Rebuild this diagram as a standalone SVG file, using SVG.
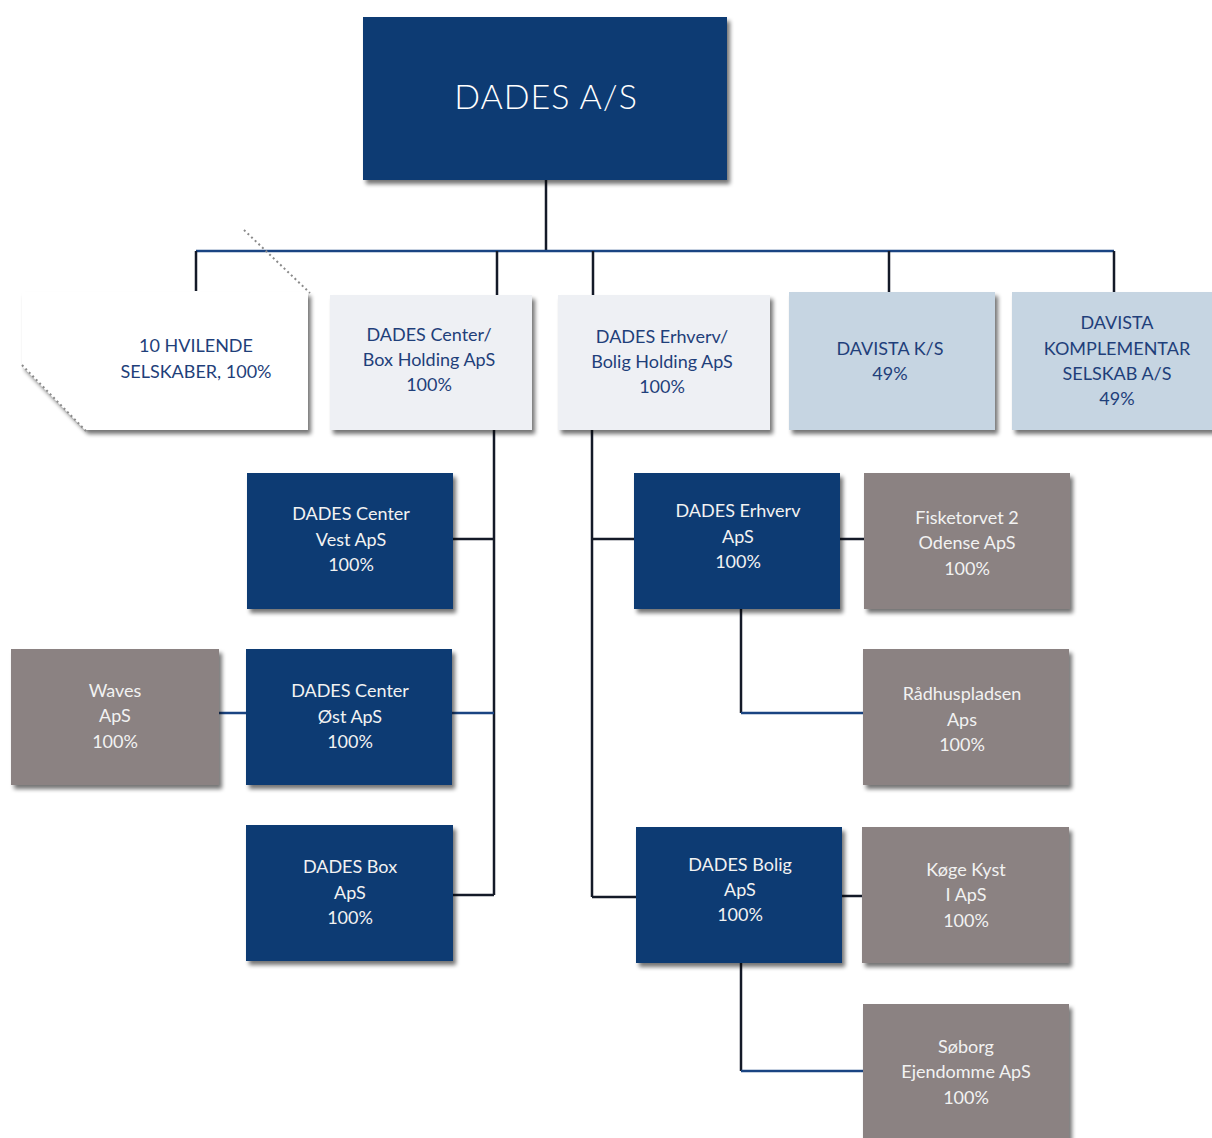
<svg xmlns="http://www.w3.org/2000/svg" width="1212" height="1138" viewBox="0 0 1212 1138">
<defs>
<filter id="sh" x="-10%" y="-10%" width="125%" height="125%">
<feGaussianBlur in="SourceAlpha" stdDeviation="2"/>
<feOffset dx="3" dy="4" result="o"/>
<feComponentTransfer><feFuncA type="linear" slope="0.55"/></feComponentTransfer>
<feMerge><feMergeNode/><feMergeNode in="SourceGraphic"/></feMerge>
</filter>
<style>
.navy{fill:#0f3b73;filter:url(#sh)}
.gray{fill:#8b8282;filter:url(#sh)}
.light{fill:#eef0f4;filter:url(#sh)}
.lblue{fill:#c6d5e2;filter:url(#sh)}
.white{fill:#ffffff;filter:url(#sh)}
text{font-family:Lato,"Open Sans","Liberation Sans",sans-serif;font-size:18px;text-anchor:middle}
.tw{fill:#f2f2f2}
.tb{fill:#1f3f7a}
.big{font-size:34px;fill:#ffffff;letter-spacing:1px;font-weight:300}
.k{fill:none;stroke:#141a28;stroke-width:2.5}
.b{fill:none;stroke:#1a4482;stroke-width:2.5}
.dot{fill:none;stroke:#8a8a8a;stroke-width:2;stroke-dasharray:2 3}
</style>
</defs>
<rect width="1212" height="1138" fill="#ffffff"/>
<g id="hvilende">
<polygon class="white" points="22,292 308,292 308,430 85,430 22,366"/>
<text class="tb" x="196" y="352">10 HVILENDE</text><text class="tb" x="196" y="378">SELSKABER, 100%</text>
</g>
<g id="connectors">
<path class="k" d="M546 180V251"/>
<path class="b" d="M196 251H1114"/>
<path class="k" d="M196 251V291M497 251V295M593 251V295M889 251V292M1114 251V292"/>
<path class="k" d="M494 430V895M453 539H494M453 895H494"/>
<path class="b" d="M452 713H494M219 713H246"/>
<path class="k" d="M592 430V897M592 539H634M592 897H636M840 539H864M842 896H862"/>
<path class="k" d="M741 609V713"/>
<path class="b" d="M741 713H863"/>
<path class="k" d="M741 963V1071"/>
<path class="b" d="M741 1071H863"/>
</g>
<path class="dot" d="M244 230L310 293M22 365L86 431"/>
<g id="dades-as"><rect class="navy" x="363" y="17" width="364" height="163"/><text class="big" x="546" y="109">DADES A/S</text></g>
<g id="center-box-holding"><rect class="light" x="330" y="295" width="202" height="135"/><text class="tb" x="429" y="341">DADES Center/</text><text class="tb" x="429" y="366">Box Holding ApS</text><text class="tb" x="429" y="391">100%</text></g>
<g id="erhverv-bolig-holding"><rect class="light" x="558" y="295" width="212" height="135"/><text class="tb" x="662" y="343">DADES Erhverv/</text><text class="tb" x="662" y="368">Bolig Holding ApS</text><text class="tb" x="662" y="393">100%</text></g>
<g id="davista-ks"><rect class="lblue" x="789" y="292" width="206" height="138"/><text class="tb" x="890" y="355">DAVISTA K/S</text><text class="tb" x="890" y="380">49%</text></g>
<g id="davista-komplementar"><rect class="lblue" x="1012" y="292" width="205" height="138"/><text class="tb" x="1117" y="329">DAVISTA</text><text class="tb" x="1117" y="355">KOMPLEMENTAR</text><text class="tb" x="1117" y="380">SELSKAB A/S</text><text class="tb" x="1117" y="405">49%</text></g>
<g id="center-vest"><rect class="navy" x="247" y="473" width="206" height="136"/><text class="tw" x="351" y="520">DADES Center</text><text class="tw" x="351" y="546">Vest ApS</text><text class="tw" x="351" y="571">100%</text></g>
<g id="center-ost"><rect class="navy" x="246" y="649" width="206" height="136"/><text class="tw" x="350" y="697">DADES Center</text><text class="tw" x="350" y="723">Øst ApS</text><text class="tw" x="350" y="748">100%</text></g>
<g id="dades-box"><rect class="navy" x="246" y="825" width="207" height="136"/><text class="tw" x="350" y="873">DADES Box</text><text class="tw" x="350" y="899">ApS</text><text class="tw" x="350" y="924">100%</text></g>
<g id="waves"><rect class="gray" x="11" y="649" width="208" height="136"/><text class="tw" x="115" y="697">Waves</text><text class="tw" x="115" y="722">ApS</text><text class="tw" x="115" y="748">100%</text></g>
<g id="dades-erhverv"><rect class="navy" x="634" y="473" width="206" height="136"/><text class="tw" x="738" y="517">DADES Erhverv</text><text class="tw" x="738" y="543">ApS</text><text class="tw" x="738" y="568">100%</text></g>
<g id="fisketorvet"><rect class="gray" x="864" y="473" width="206" height="136"/><text class="tw" x="967" y="524">Fisketorvet 2</text><text class="tw" x="967" y="549">Odense ApS</text><text class="tw" x="967" y="575">100%</text></g>
<g id="radhuspladsen"><rect class="gray" x="863" y="649" width="206" height="136"/><text class="tw" x="962" y="700">Rådhuspladsen</text><text class="tw" x="962" y="726">Aps</text><text class="tw" x="962" y="751">100%</text></g>
<g id="dades-bolig"><rect class="navy" x="636" y="827" width="206" height="136"/><text class="tw" x="740" y="871">DADES Bolig</text><text class="tw" x="740" y="896">ApS</text><text class="tw" x="740" y="921">100%</text></g>
<g id="koge-kyst"><rect class="gray" x="862" y="827" width="207" height="136"/><text class="tw" x="966" y="876">Køge Kyst</text><text class="tw" x="966" y="901">I ApS</text><text class="tw" x="966" y="927">100%</text></g>
<g id="soborg"><rect class="gray" x="863" y="1004" width="206" height="140"/><text class="tw" x="966" y="1053">Søborg</text><text class="tw" x="966" y="1078">Ejendomme ApS</text><text class="tw" x="966" y="1104">100%</text></g>
</svg>
